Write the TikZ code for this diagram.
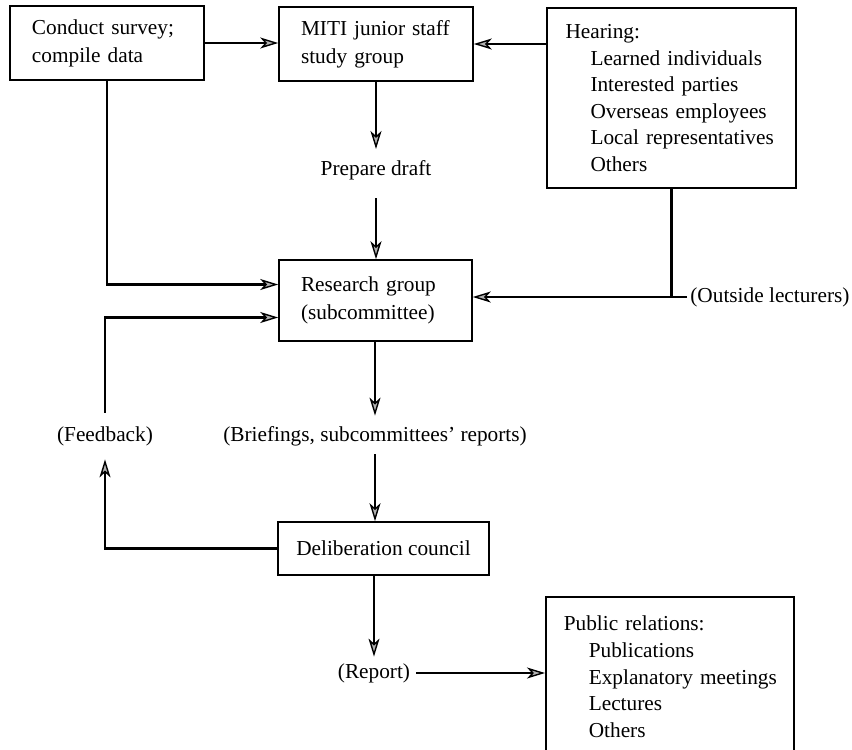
\documentclass[tikz,border=0pt]{standalone}
\usepackage{fontspec}
\setmainfont{Liberation Serif}
\usetikzlibrary{arrows.meta,calc}
\begin{document}
\begin{tikzpicture}[x=0.5pt,y=-0.5pt,
  font=\fontsize{10.65}{13.3}\selectfont,
  box/.style={draw, line width=0.8pt, inner ysep=0pt, align=left},
  lab/.style={inner sep=0pt, text height=8pt, text depth=2.6pt},
  conn/.style={line width=1.25pt},
  arr/.style={conn, -{Stealth[length=9pt,width=5.5pt,inset=2.5pt,fill=gray!60,line width=0.7pt]}}]
\useasboundingbox (0,0) rectangle (852,750);
\clip (0,0) rectangle (852,750);

\node[box, text width=75pt, inner xsep=11pt, minimum height=37pt] (conduct) at (107,43) {Conduct survey;\\[0.7pt] compile data};
\node[box, text width=75pt, inner xsep=11pt, minimum height=37pt] (miti) at (376,44) {MITI junior staff\\[0.7pt] study group};
\node[box, text width=106pt, inner xsep=9.25pt, minimum height=90pt] (hearing) at (671.5,98) {Hearing:\\
\hspace*{12.5pt}\mbox{Learned individuals}\\
\hspace*{12.5pt}\mbox{Interested parties}\\
\hspace*{12.5pt}\mbox{Overseas employees}\\
\hspace*{12.5pt}\mbox{Local representatives}\\
\hspace*{12.5pt}Others};
\node[lab] (prep) at (376,170) {Prepare draft};
\node[box, text width=74.5pt, inner xsep=11pt, minimum height=40.5pt] (research) at (375.5,300.5) {Research group\\[0.7pt] (subcommittee)};
\node[lab, anchor=west] (outside) at (690,297) {(Outside lecturers)};
\node[lab] (brief) at (375,436) {(Briefings, subcommittees’ reports)};
\node[lab] (feedback) at (105,436) {(Feedback)};
\node[box, align=center, minimum width=105.5pt, minimum height=26.5pt, inner xsep=0pt] (delib) at (383.5,548.5) {Deliberation council};
\node[lab] (report) at (374,673) {(Report)};
\node[box, text width=106pt, inner xsep=9pt, minimum height=80pt, anchor=north west] (pr) at (545,596) {\mbox{Public relations:}\\
\hspace*{12.5pt}\mbox{Publications}\\
\hspace*{12.5pt}\mbox{Explanatory meetings}\\
\hspace*{12.5pt}\mbox{Lectures}\\
\hspace*{12.5pt}\mbox{Others}};

\draw[arr] (conduct.east) -- (conduct.east -| miti.west);
\draw[arr] (hearing.west |- miti.east) -- (miti.east);
\draw[arr, shorten >=5pt] (miti.south) -- (prep.north);
\draw[arr, shorten <=8.5pt] (prep.south) -- (prep.south |- research.north);
\draw[arr] (conduct.south) |- ([yshift=8pt]research.west);
\draw[conn] (hearing.south) -- (hearing.south |- outside.west);
\draw[arr, shorten <=1.5pt] (outside.west) -- (outside.west -| research.east);
\draw[arr, shorten >=4.7pt] (brief.north |- research.south) -- (brief.north);
\draw[arr, shorten <=3.7pt] (brief.south) -- (brief.south |- delib.north);
\draw[arr, shorten >=6.2pt] (delib.west) -| (feedback.south);
\draw[arr, shorten <=6.2pt] (feedback.north) |- ([yshift=-8.5pt]research.west);
\draw[arr, shorten >=2.7pt] (report.north |- delib.south) -- (report.north);
\draw[arr, shorten <=3pt] (report.east) -- (report.east -| pr.west);
\end{tikzpicture}
\end{document}
